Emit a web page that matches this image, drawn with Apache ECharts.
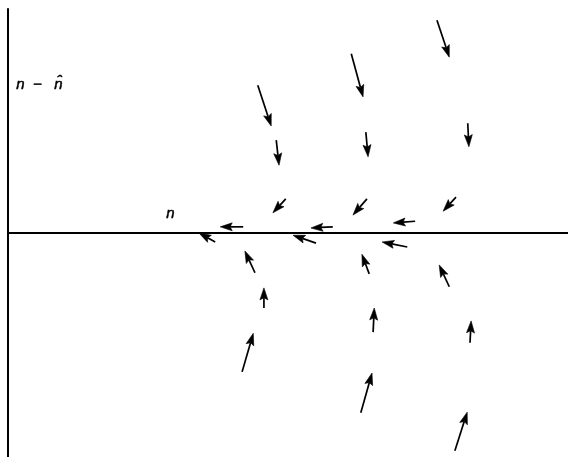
<!DOCTYPE html>
<html>
<head>
<meta charset="utf-8">
<script src="https://cdn.jsdelivr.net/npm/echarts@6/dist/echarts.min.js"></script>
<style>html,body{margin:0;padding:0;background:#fff;}#c{width:568px;height:457px;}</style>
</head>
<body>
<div id="c"></div>
<script>
// Arrow tails (start) and heads (end), in data units
var startX = [4.46, 4.79, 7.66, 6.13, 6.39, 8.21, 6.41, 8.00, 7.27, 5.80, 4.96, 4.20, 3.70, 4.41, 4.57, 4.18, 5.50, 7.13, 6.45, 7.88, 6.52, 8.25, 6.30, 7.98];
var startY = [2.64, 1.66, 3.80, 3.20, 1.80, 1.96, 0.61, 0.64, 0.21, 0.11, 0.61, 0.11, -0.16, -0.71, -1.34, -2.48, -0.18, -0.25, -0.73, -0.96, -1.77, -1.96, -3.21, -3.89];
var endX   = [4.70, 4.84, 7.88, 6.34, 6.43, 8.23, 6.16, 7.77, 6.88, 5.41, 4.73, 3.79, 3.41, 4.23, 4.57, 4.38, 5.09, 6.68, 6.32, 7.70, 6.54, 8.27, 6.50, 8.20];
var endY   = [1.91, 1.21, 3.14, 2.43, 1.36, 1.54, 0.32, 0.39, 0.18, 0.09, 0.36, 0.11, 0.00, -0.32, -0.98, -1.79, -0.04, -0.16, -0.38, -0.57, -1.34, -1.57, -2.50, -3.20];
var yLabel = 'n\u00a0\u00a0\u2212\u00a0\u00a0\u00a0n\u0302';
var xLabel = 'n';

var data = startX.map(function (x, i) { return [x, startY[i], endX[i], endY[i]]; });

var labelFont = 'italic 15px "Liberation Sans", Arial, sans-serif';
var chart = echarts.init(document.getElementById('c'), null, {renderer: 'canvas'});
chart.setOption({
  animation: false,
  backgroundColor: '#fff',
  grid: {left: 8, top: 9, width: 560, height: 448},
  xAxis: {
    type: 'value', min: 0, max: 10,
    axisLine: {show: true, onZero: true, lineStyle: {color: '#000', width: 2}},
    axisTick: {show: false}, axisLabel: {show: false}, splitLine: {show: false}
  },
  yAxis: {
    type: 'value', min: -4, max: 4,
    axisLine: {show: true, onZero: false, lineStyle: {color: '#000', width: 2}},
    axisTick: {show: false}, axisLabel: {show: false}, splitLine: {show: false}
  },
  graphic: [
    {type: 'text', left: 16, top: 77, style: {text: yLabel, font: labelFont, fill: '#000', stroke: '#000', lineWidth: 0.5}},
    {type: 'text', left: 166, top: 206, style: {text: xLabel, font: labelFont, fill: '#000', stroke: '#000', lineWidth: 0.5}}
  ],
  series: [{
    type: 'custom',
    coordinateSystem: 'cartesian2d',
    encode: {x: [0, 2], y: [1, 3]},
    data: data,
    clip: false,
    renderItem: function (params, api) {
      var s = api.coord([api.value(0), api.value(1)]);
      var e = api.coord([api.value(2), api.value(3)]);
      var dx = e[0] - s[0], dy = e[1] - s[1];
      var L = Math.sqrt(dx * dx + dy * dy) || 1;
      var ux = dx / L, uy = dy / L;
      var hl = Math.min(12, L * 0.7), hw = 4;
      var bx = e[0] - ux * hl, by = e[1] - uy * hl;
      var nx = e[0] - ux * hl * 0.82, ny = e[1] - uy * hl * 0.82;
      return {
        type: 'group',
        children: [
          {type: 'line', shape: {x1: s[0], y1: s[1], x2: nx, y2: ny}, style: {stroke: '#000', lineWidth: 1.7}},
          {type: 'polygon', shape: {points: [[e[0], e[1]], [bx - uy * hw, by + ux * hw], [nx, ny], [bx + uy * hw, by - ux * hw]]}, style: {fill: '#000', stroke: '#000', lineWidth: 0.6, lineJoin: 'miter'}}
        ]
      };
    }
  }]
});
</script>
</body>
</html>
